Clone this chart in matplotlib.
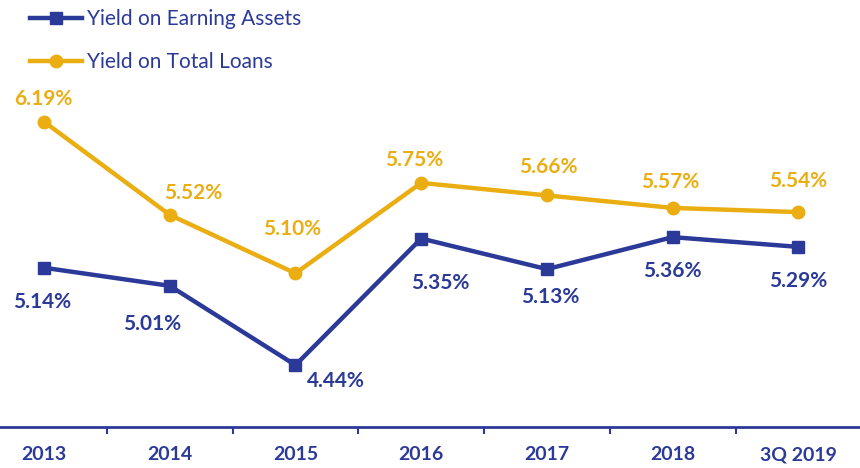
import matplotlib
matplotlib.use("Agg")
import matplotlib.pyplot as plt

categories = ["2013", "2014", "2015", "2016", "2017", "2018", "3Q 2019"]
earning_assets = [5.14, 5.01, 4.44, 5.35, 5.13, 5.36, 5.29]
total_loans = [6.19, 5.52, 5.10, 5.75, 5.66, 5.57, 5.54]

BLUE = "#2B3A98"
GOLD = "#EAAE13"

plt.rcParams["font.family"] = ["Lato", "DejaVu Sans"]

fig = plt.figure(figsize=(8.6, 4.68), dpi=100)
ax = fig.add_axes([0, 41 / 468, 1, 427 / 468])

x = list(range(len(categories)))
ax.plot(x, earning_assets, color=BLUE, lw=3.2, marker="s", ms=9,
        label="Yield on Earning Assets")
ax.plot(x, total_loans, color=GOLD, lw=3.2, marker="o", ms=9,
        label="Yield on Total Loans")

# label offsets in pixels (dx, dy)
blue_off = [(-2, -34), (-18, -38), (40, -16), (19, -44), (3, -28), (0, -34), (0, -34)]
gold_off = [(-1, 23), (23, 22), (-3, 44), (-7, 23), (1, 28), (-2, 26), (0, 31)]

for i, v in enumerate(earning_assets):
    ax.annotate(f"{v:.2f}%", (i, v), xytext=blue_off[i], textcoords="offset pixels",
                ha="center", va="center", color=BLUE, fontsize=15, fontweight="bold")
for i, v in enumerate(total_loans):
    ax.annotate(f"{v:.2f}%", (i, v), xytext=gold_off[i], textcoords="offset pixels",
                ha="center", va="center", color=GOLD, fontsize=15, fontweight="bold")

ax.set_xlim(-0.35, 6.49)
ax.set_ylim(3.995, 7.065)

for s in ["top", "right", "left"]:
    ax.spines[s].set_visible(False)
ax.spines["bottom"].set_color(BLUE)
ax.spines["bottom"].set_linewidth(2)

ax.set_yticks([])
ax.set_xticks(x)
ax.set_xticklabels(categories, fontsize=14, fontweight="bold", color=BLUE)
ax.tick_params(axis="x", which="major", length=0, pad=14)
ax.set_xticks([i + 0.5 for i in range(len(categories) - 1)], minor=True)
ax.tick_params(axis="x", which="minor", length=5, width=1.5, color=BLUE, direction="out")

leg = ax.legend(loc="upper left", bbox_to_anchor=(0.02, 1.008), frameon=False,
                fontsize=15, handlelength=2.5, handletextpad=0.25, labelspacing=1.1,
                borderaxespad=0.2)
for t in leg.get_texts():
    t.set_color(BLUE)

fig.savefig("out.png", dpi=100)
